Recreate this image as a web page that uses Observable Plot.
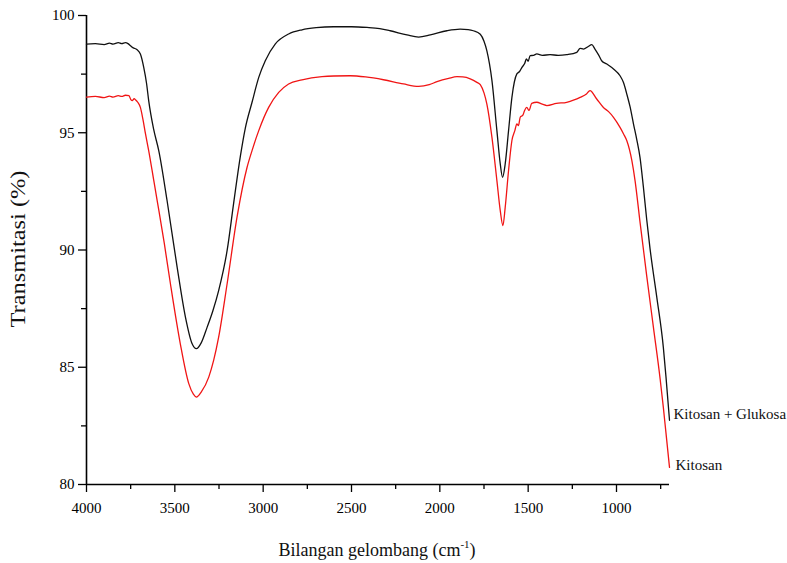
<!DOCTYPE html>
<html>
<head>
<meta charset="utf-8">
<script src="https://cdn.jsdelivr.net/npm/d3@7"></script>
<script src="https://cdn.jsdelivr.net/npm/@observablehq/plot@0.6"></script>
<style>
  html, body { margin: 0; padding: 0; background: #fff; }
  #chart { width: 787px; height: 563px; }
</style>
</head>
<body>
<div id="chart"></div>
<script>
// Kitosan + Glukosa (black)
const blackWn = [4000,3950,3900,3870,3850,3820,3800,3780,3765,3751,3740,3732,3715,3695,3676,3660,3648,3620,3591,3544,3487,3440,3402,3378,3350,3317,3285,3252,3204,3167,3129,3101,3063,3025,2988,2931,2856,2780,2700,2601,2500,2412,2340,2281,2186,2120,2054,1960,1885,1840,1810,1771,1750,1734,1705,1677,1658,1645,1630,1611,1592,1564,1550,1535,1520,1510,1500,1489,1470,1451,1420,1376,1330,1282,1225,1206,1187,1160,1140,1122,1100,1084,1055,1017,980,961,942,923,904,885,867,848,829,810,772,735,720,700];
const blackT  = [98.78,98.80,98.76,98.82,98.78,98.84,98.80,98.84,98.80,98.71,98.64,98.61,98.55,98.36,97.79,97.10,96.37,95.15,94.24,92.11,89.27,87.14,86.00,85.79,86.05,86.71,87.40,88.27,89.98,92.00,94.00,95.20,96.30,97.36,98.07,98.79,99.21,99.39,99.48,99.52,99.52,99.49,99.44,99.35,99.17,99.08,99.17,99.35,99.42,99.40,99.35,99.20,98.90,98.50,97.22,95.09,93.67,93.10,93.67,95.09,96.51,97.51,97.60,97.79,97.95,98.15,98.05,98.29,98.30,98.36,98.30,98.33,98.30,98.33,98.43,98.60,98.57,98.68,98.76,98.57,98.30,98.07,97.93,97.72,97.43,97.15,96.66,96.10,95.38,94.70,93.95,92.70,91.30,90.05,87.99,85.86,84.60,82.74];

// Kitosan (red)
const redWn = [4000,3950,3900,3870,3850,3820,3800,3780,3760,3748,3741,3730,3723,3710,3695,3680,3666,3648,3620,3600,3560,3525,3469,3421,3395,3378,3350,3308,3280,3252,3204,3148,3091,3063,3025,2969,2912,2856,2780,2667,2600,2507,2420,2319,2206,2120,2060,2016,1950,1903,1870,1828,1790,1771,1750,1734,1705,1677,1658,1643,1630,1611,1592,1575,1564,1555,1545,1530,1520,1508,1495,1480,1451,1420,1394,1340,1282,1240,1206,1170,1150,1112,1074,1045,1017,980,960,942,913,895,867,829,791,753,735,720,700];
const redT  = [96.52,96.55,96.50,96.56,96.52,96.58,96.55,96.60,96.58,96.40,96.37,96.45,96.41,96.30,96.08,95.55,94.95,94.24,93.00,92.11,90.30,88.56,86.00,84.30,83.85,83.73,83.95,84.58,85.30,86.28,88.56,91.40,93.53,94.24,95.09,96.08,96.72,97.08,97.25,97.39,97.42,97.43,97.38,97.26,97.08,96.98,97.05,97.18,97.32,97.39,97.38,97.30,97.15,97.05,96.70,96.23,94.80,92.96,91.68,91.04,91.82,93.39,94.67,95.10,95.38,95.30,95.66,95.75,95.95,96.08,95.95,96.25,96.30,96.22,96.16,96.25,96.30,96.40,96.51,96.65,96.80,96.44,96.08,95.90,95.66,95.23,94.95,94.67,93.81,92.96,91.20,88.90,86.70,84.50,83.30,82.20,80.73];

const seriesNames = ["Kitosan + Glukosa", "Kitosan"];
const xTicks = [4000,3500,3000,2500,2000,1500,1000];
const xMinorTicks = [3750,3250,2750,2250,1750,1250,750];
const yTicks = [80,85,90,95,100];
const yMinorTicks = [82.5,87.5,92.5,97.5];
const xLabel = "Bilangan gelombang (cm";
const xLabelSup = "-1";
const yLabel = "Transmitasi (%)";

const black = blackWn.map((w, i) => ({wn: w, t: blackT[i]}));
const red = redWn.map((w, i) => ({wn: w, t: redT[i]}));

const serif = "'Liberation Serif', 'Times New Roman', 'DejaVu Serif', serif";

const chart = Plot.plot({
  width: 787,
  height: 563,
  marginLeft: 86,
  marginRight: 118,
  marginTop: 15,
  marginBottom: 79,
  x: {domain: [4000, 700]},
  y: {domain: [80, 100]},
  style: {fontFamily: serif, fontSize: "15px", color: "#000", background: "#fff", overflow: "visible"},
  marks: [
    Plot.axisX({ticks: xTicks, tickSize: 8, tickPadding: 10, tickFormat: d => String(d), label: null, strokeWidth: 1.3}),
    Plot.axisX({ticks: xMinorTicks, tickSize: 5, tickFormat: () => "", label: null, strokeWidth: 1.3}),
    Plot.axisY({ticks: yTicks, tickSize: 8, tickPadding: 4, tickFormat: d => String(d), label: null, strokeWidth: 1.3}),
    Plot.axisY({ticks: yMinorTicks, tickSize: 5, tickFormat: () => "", label: null, strokeWidth: 1.3}),
    Plot.ruleX([4000], {stroke: "#000", strokeWidth: 1.6}),
    Plot.ruleY([80], {stroke: "#000", strokeWidth: 1.6}),
    Plot.line(red, {x: "wn", y: "t", stroke: "#f01515", strokeWidth: 1.3, curve: "monotone-x"}),
    Plot.line(black, {x: "wn", y: "t", stroke: "#111", strokeWidth: 1.3, curve: "monotone-x"}),
    Plot.text([black[black.length - 1]], {x: "wn", y: "t", text: () => seriesNames[0], textAnchor: "start", dx: 4, dy: -6, fontSize: 15, fill: "#111"}),
    Plot.text([red[red.length - 1]], {x: "wn", y: "t", text: () => seriesNames[1], textAnchor: "start", dx: 6, dy: -2, fontSize: 15, fill: "#111"})
  ]
});

document.getElementById("chart").appendChild(chart);

const svg = d3.select(chart);
// x-axis title
const xt = svg.append("text")
  .attr("x", 377)
  .attr("y", 556)
  .attr("text-anchor", "middle")
  .attr("font-family", serif)
  .attr("font-size", 18)
  .attr("fill", "#111");
xt.append("tspan").text(xLabel);
xt.append("tspan").attr("font-size", 11).attr("dy", -8).text(xLabelSup);
xt.append("tspan").attr("dy", 8).text(")");

// y-axis title
svg.append("text")
  .attr("transform", "translate(25,249) rotate(-90)")
  .attr("text-anchor", "middle")
  .attr("font-family", serif)
  .attr("font-size", 21)
  .attr("textLength", 157)
  .attr("lengthAdjust", "spacingAndGlyphs")
  .attr("fill", "#111")
  .text(yLabel);
</script>
</body>
</html>
